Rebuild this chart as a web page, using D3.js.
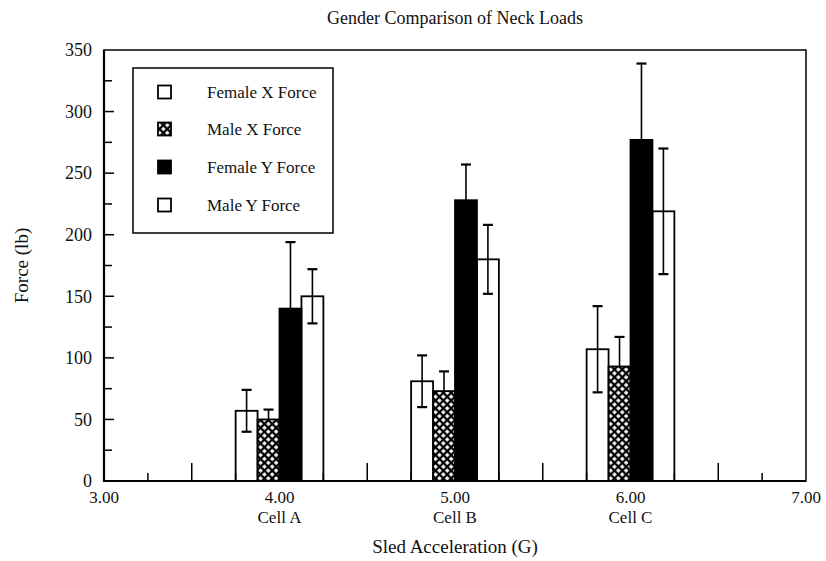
<!DOCTYPE html>
<html>
<head>
<meta charset="utf-8">
<script src="https://cdn.jsdelivr.net/npm/d3@7"></script>
<style>
  body { margin: 0; background: #fff; }
  text { font-family: "Liberation Serif", "Times New Roman", serif; fill: #111; }
</style>
</head>
<body>
<div id="app"></div>
<script>
const accel = [4, 5, 6];
const cells = ["Cell A", "Cell B", "Cell C"];
const seriesNames = ["Female X Force", "Male X Force", "Female Y Force", "Male Y Force"];
const femaleX = [57, 81, 107];
const femaleXErr = [17, 21, 35];
const maleX = [50, 73, 93];
const maleXErr = [8, 16, 24];
const femaleY = [140, 228, 277];
const femaleYErr = [54, 29, 62];
const maleY = [150, 180, 219];
const maleYErr = [22, 28, 51];
const xTickValues = [3, 4, 5, 6, 7];
const yTickValues = [0, 50, 100, 150, 200, 250, 300, 350];

const width = 826, height = 561;
const margin = { top: 50, right: 20, bottom: 80, left: 104 };

const series = [
  { name: seriesNames[0], values: femaleX, errs: femaleXErr, fill: "none" },
  { name: seriesNames[1], values: maleX, errs: maleXErr, fill: "url(#xhatch)" },
  { name: seriesNames[2], values: femaleY, errs: femaleYErr, fill: "#000" },
  { name: seriesNames[3], values: maleY, errs: maleYErr, fill: "none" }
];

const barW = 0.125;

const x = d3.scaleLinear().domain([3, 7]).range([margin.left, width - margin.right]);
const y = d3.scaleLinear().domain([0, 350]).range([height - margin.bottom, margin.top]);

const svg = d3.select("#app").append("svg")
  .attr("width", width)
  .attr("height", height);

svg.append("rect").attr("width", width).attr("height", height).attr("fill", "#fff");

// cross hatch used by the male X bars
const pat = svg.append("defs").append("pattern")
  .attr("id", "xhatch")
  .attr("patternUnits", "userSpaceOnUse")
  .attr("width", 5.5)
  .attr("height", 5.5)
  .attr("patternTransform", "rotate(45)");
pat.append("rect").attr("width", 5.5).attr("height", 5.5).attr("fill", "#fff");
pat.append("path").attr("d", "M0,2.75H5.5M2.75,0V5.5").attr("stroke", "#000").attr("stroke-width", 2.2);

// flatten into bar records
const bars = [];
series.forEach((s, si) => {
  accel.forEach((a, i) => {
    bars.push({ si, s, a, v: s.values[i], e: s.errs[i], x0: a - 2 * barW + si * barW });
  });
});

// x ticks every 0.25, the half steps longer
const quarterTicks = d3.range(3.25, 7, 0.25);
svg.append("g")
  .selectAll("line")
  .data(quarterTicks)
  .join("line")
  .attr("x1", d => x(d)).attr("x2", d => x(d))
  .attr("y1", y(0))
  .attr("y2", d => y(0) - (Math.abs(d * 2 - Math.round(d * 2)) < 1e-6 ? 18 : 8))
  .attr("stroke", "#000")
  .attr("stroke-width", 1.5);

// error bars first so solid bars hide their lower half
const err = svg.append("g").attr("stroke", "#000").attr("stroke-width", 1.6);
err.selectAll(".whisker")
  .data(bars)
  .join("line")
  .attr("class", "whisker")
  .attr("x1", d => x(d.x0 + barW / 2)).attr("x2", d => x(d.x0 + barW / 2))
  .attr("y1", d => y(d.v - d.e)).attr("y2", d => y(d.v + d.e));
err.selectAll(".capTop")
  .data(bars)
  .join("line")
  .attr("class", "capTop")
  .attr("x1", d => x(d.x0 + barW / 2) - 5).attr("x2", d => x(d.x0 + barW / 2) + 5)
  .attr("y1", d => y(d.v + d.e)).attr("y2", d => y(d.v + d.e))
  .attr("stroke-width", 2.2);
err.selectAll(".capBot")
  .data(bars)
  .join("line")
  .attr("class", "capBot")
  .attr("x1", d => x(d.x0 + barW / 2) - 5).attr("x2", d => x(d.x0 + barW / 2) + 5)
  .attr("y1", d => y(d.v - d.e)).attr("y2", d => y(d.v - d.e))
  .attr("stroke-width", 2.2);

svg.append("g")
  .selectAll("rect")
  .data(bars)
  .join("rect")
  .attr("x", d => x(d.x0))
  .attr("width", d => x(d.x0 + barW) - x(d.x0))
  .attr("y", d => y(d.v))
  .attr("height", d => y(0) - y(d.v))
  .attr("fill", d => d.s.fill)
  .attr("stroke", "#000")
  .attr("stroke-width", 1.8);

// y axis ticks (inward), majors and minors
svg.append("g")
  .selectAll("line")
  .data(d3.range(25, 350, 25))
  .join("line")
  .attr("x1", x(3)).attr("x2", d => x(3) + (d % 50 === 0 ? 10 : 8))
  .attr("y1", d => y(d)).attr("y2", d => y(d))
  .attr("stroke", "#000")
  .attr("stroke-width", 1.5);

// frame
svg.append("rect")
  .attr("x", x(3)).attr("y", y(350))
  .attr("width", x(7) - x(3)).attr("height", y(0) - y(350))
  .attr("fill", "none")
  .attr("stroke", "#000")
  .attr("stroke-width", 1.5);
svg.append("path")
  .attr("d", `M${x(3)},${y(350)}V${y(0)}H${x(7)}`)
  .attr("fill", "none")
  .attr("stroke", "#000")
  .attr("stroke-width", 2.2);

// tick labels
svg.append("g")
  .selectAll("text")
  .data(yTickValues)
  .join("text")
  .attr("x", 92)
  .attr("y", d => y(d))
  .attr("dy", "0.35em")
  .attr("text-anchor", "end")
  .style("font-size", "18px")
  .text(d => d);

svg.append("g")
  .selectAll("text")
  .data(xTickValues)
  .join("text")
  .attr("x", d => x(d))
  .attr("y", 503)
  .attr("text-anchor", "middle")
  .style("font-size", "17px")
  .text(d => d3.format(".2f")(d));

svg.append("g")
  .selectAll("text")
  .data(accel)
  .join("text")
  .attr("x", d => x(d))
  .attr("y", 523)
  .attr("text-anchor", "middle")
  .style("font-size", "17px")
  .text((d, i) => cells[i]);

// titles
svg.append("text")
  .attr("x", x(5))
  .attr("y", 24)
  .attr("text-anchor", "middle")
  .style("font-size", "18px")
  .text("Gender Comparison of Neck Loads");

svg.append("text")
  .attr("x", x(5))
  .attr("y", 553)
  .attr("text-anchor", "middle")
  .style("font-size", "19px")
  .text("Sled Acceleration (G)");

svg.append("text")
  .attr("transform", `translate(28,${y(175)}) rotate(-90)`)
  .attr("text-anchor", "middle")
  .style("font-size", "19px")
  .text("Force (lb)");

// legend
const legend = svg.append("g");
legend.append("rect")
  .attr("x", 133).attr("y", 68)
  .attr("width", 200).attr("height", 165)
  .attr("fill", "#fff")
  .attr("stroke", "#000")
  .attr("stroke-width", 1.5);

const rowY = [92, 129, 167, 205];
const item = legend.selectAll(".item")
  .data(series)
  .join("g")
  .attr("class", "item")
  .attr("transform", (d, i) => `translate(0,${rowY[i]})`);
item.append("rect")
  .attr("x", 158).attr("y", -6.5)
  .attr("width", 13).attr("height", 13)
  .attr("fill", d => d.fill === "none" ? "#fff" : d.fill)
  .attr("stroke", "#000")
  .attr("stroke-width", 1.8);
item.append("text")
  .attr("x", 207)
  .attr("dy", "0.35em")
  .style("font-size", "17px")
  .text(d => d.name);
</script>
</body>
</html>
